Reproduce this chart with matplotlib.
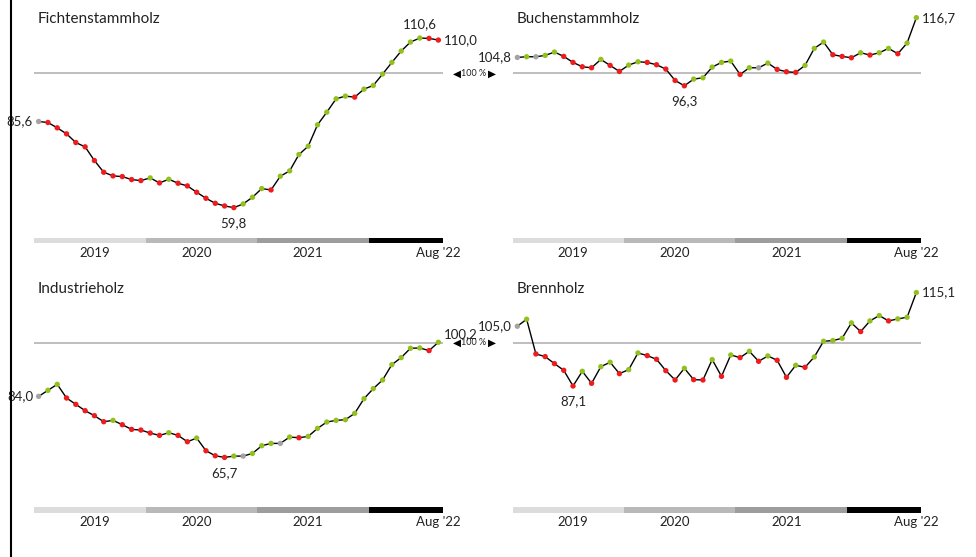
import matplotlib
matplotlib.use('Agg')
import matplotlib.pyplot as plt
import numpy as np
from matplotlib.lines import Line2D

plt.rcParams['font.family'] = ['Lato', 'DejaVu Sans']

# monthly index values, Jan 2019 .. Aug 2022 (100 % = reference)
fichte = [85.6, 85.3, 83.7, 81.9, 79.3, 78.0, 73.9, 70.4, 69.3, 69.1, 68.2, 67.9,
          68.7, 67.2, 68.3, 67.1, 66.3, 64.4, 62.6, 61.1, 60.3, 59.8, 60.9, 62.9,
          65.5, 65.1, 69.2, 70.8, 75.7, 78.2, 84.6, 88.4, 92.4, 93.2, 92.9, 95.3,
          96.4, 99.8, 103.3, 106.7, 109.4, 110.6, 110.5, 110.0]
buche = [104.8, 105.0, 105.0, 105.4, 106.4, 105.1, 103.3, 102.0, 101.7, 104.2, 102.4, 100.6,
         102.5, 103.5, 103.3, 102.6, 101.3, 97.9, 96.3, 98.3, 98.7, 101.9, 103.3, 103.7,
         99.7, 101.7, 101.7, 103.1, 101.2, 100.5, 100.3, 102.4, 107.5, 109.4, 105.6, 105.1,
         104.7, 106.2, 105.5, 106.2, 107.5, 105.9, 109.1, 116.7]
industrie = [84.0, 85.8, 87.6, 83.5, 81.6, 79.7, 78.2, 76.4, 76.8, 75.5, 74.1, 73.9,
             73.0, 72.3, 73.1, 72.3, 70.4, 71.5, 67.7, 66.2, 65.7, 66.1, 66.1, 66.9,
             69.2, 69.9, 69.9, 71.8, 71.6, 72.0, 74.4, 76.3, 76.8, 77.0, 78.9, 83.3,
             86.3, 88.9, 93.5, 95.6, 98.4, 98.5, 97.7, 100.2]
brenn = [105.0, 107.1, 96.7, 95.9, 93.8, 91.8, 87.1, 91.5, 87.9, 92.9, 94.2, 90.8,
         92.0, 97.0, 96.2, 95.1, 91.7, 88.9, 92.4, 89.0, 88.9, 95.0, 90.0, 96.4,
         95.6, 97.5, 94.5, 96.1, 94.8, 89.7, 93.3, 92.7, 95.8, 100.5, 100.7, 101.4,
         106.0, 103.4, 106.6, 108.2, 106.6, 107.2, 107.7, 115.1]

titles = ['Fichtenstammholz', 'Buchenstammholz', 'Industrieholz', 'Brennholz']
year_start = [0, 12, 24, 36]
year_len = [12, 12, 12, 8]
year_colors = ['#dcdcdc', '#b9b9b9', '#9d9d9d', '#000000']
year_labels = ['2019', '2020', '2021', "Aug '22"]
year_label_pos = [6, 17, 29, 43]

W, H = 976, 557
fig = plt.figure(figsize=(W / 100, H / 100), dpi=100)

def px_axes(x0, y0, x1, y1):
    return fig.add_axes([x0 / W, 1 - y1 / H, (x1 - x0) / W, (y1 - y0) / H])

def fmt(v):
    return '{:.1f}'.format(v).replace('.', ',')

boxes = [(34, 0, 443, 243), (512.7, 0, 921, 243),
         (34, 269.5, 443, 512.5), (512.7, 269.5, 921, 512.5)]
ymin, ymax = 49.2, 122.0
green, red, grey = '#92c11f', '#ee1c1c', '#a3a3a3'
txt = '#222222'

for box, title, vals in zip(boxes, titles, [fichte, buche, industrie, brenn]):
    ax = px_axes(*box)
    ax.set_xlim(-0.5, 43.5)
    ax.set_ylim(ymin, ymax)
    ax.axis('off')
    vals = np.array(vals)
    x = np.arange(len(vals))

    d = np.round(np.diff(vals), 1)
    cols = [grey] + [green if v > 0 else (red if v < 0 else grey) for v in d]

    ax.axhline(100, color='#b3b3b3', lw=1.2, zorder=1)
    ax.plot(x, vals, color='black', lw=1.0, zorder=2)
    ax.scatter(x, vals, s=15, c=cols, zorder=3, linewidths=0)

    for s, n, c in zip(year_start, year_len, year_colors):
        ax.broken_barh([(s - 0.5, n)], (ymin, 1.5), facecolors=c)
    for p, lab in zip(year_label_pos, year_labels):
        ax.text(p, ymin - 2.9, lab, ha='center', va='center', fontsize=9.5,
                color=txt, clip_on=False)

    ax.text(-0.1, 116.3, title, ha='left', va='center', fontsize=11, color=txt)

    # value labels
    ax.annotate(fmt(vals[0]), (0, vals[0]), xytext=(-4, 0), textcoords='offset points',
                ha='right', va='center', fontsize=9.5, color=txt, annotation_clip=False)
    last = len(vals) - 1
    dy = 6 if title == 'Industrieholz' else 0
    ax.annotate(fmt(vals[-1]), (last, vals[-1]), xytext=(4, dy), textcoords='offset points',
                ha='left', va='center', fontsize=9.5, color=txt, annotation_clip=False)
    imin = int(np.argmin(vals))
    ax.annotate(fmt(vals[imin]), (imin, vals[imin]), xytext=(0, -11), textcoords='offset points',
                ha='center', va='center', fontsize=9.5, color=txt, annotation_clip=False)
    imax = int(np.argmax(vals))
    if 0 < imax < last:
        ax.annotate(fmt(vals[imax]), (imax, vals[imax]), xytext=(0, 10), textcoords='offset points',
                    ha='center', va='center', fontsize=9.5, color=txt, annotation_clip=False)

# 100 % markers between the panels
for yp in [73.3, 342.8]:
    fig.text(457 / W, 1 - yp / H, '\u25c0', ha='center', va='center',
             fontsize=7.5, color='black', family='DejaVu Sans')
    fig.text(474 / W, 1 - yp / H, '100 %', ha='center', va='center',
             fontsize=6.5, color=txt)
    fig.text(492 / W, 1 - yp / H, '\u25b6', ha='center', va='center',
             fontsize=7.5, color='black', family='DejaVu Sans')

fig.add_artist(Line2D([11 / W, 11 / W], [0, 1], color='black', lw=1.5))

fig.savefig('out.png', dpi=100, facecolor='white')
